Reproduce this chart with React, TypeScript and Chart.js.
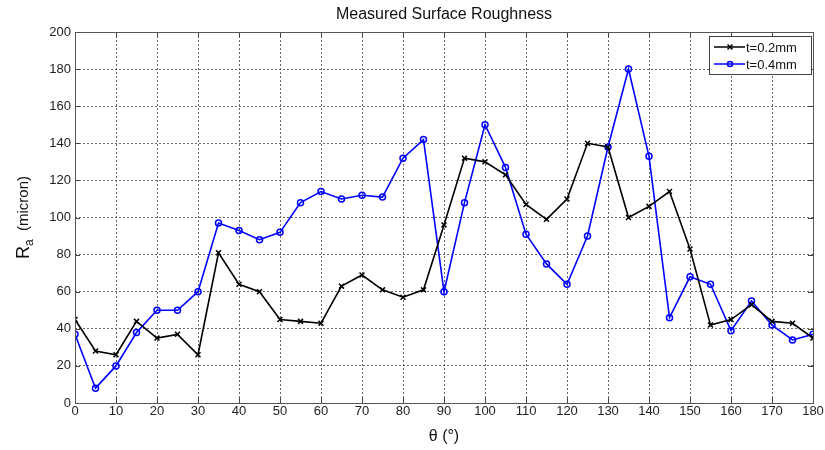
import React, { useEffect, useRef } from "react";
import { Chart, registerables } from "chart.js";
Chart.register(...registerables);

const angles = [0,5,10,15,20,25,30,35,40,45,50,55,60,65,70,75,80,85,90,95,100,105,110,115,120,125,130,135,140,145,150,155,160,165,170,175,180];
const t02 = [45,28,26,44,35,37,26,81,64,60,45,44,43,63,69,61,57,61,96,132,130,123,107,99,110,140,138,100,106,114,83,42,45,53,44,43,35];
const t04 = [37,8,20,38,50,50,60,97,93,88,92,108,114,110,112,111,132,142,60,108,150,127,91,75,64,90,138,180,133,46,68,64,39,55,42,34,37];
const seriesLabels = ["t=0.2mm", "t=0.4mm"];
const titleText = "Measured Surface Roughness";
const xTitle = "θ (°)";
const yTitleMain = "R";
const yTitleSub = "a";
const yTitleRest = "  (micron)";

const FONT = "'Liberation Sans', Arial, sans-serif";

const decorPlugin = {
  id: "decor",
  afterDraw(chart: any) {
    const { ctx, chartArea: a } = chart;
    ctx.save();
    // inner tick marks
    ctx.strokeStyle = "#444";
    ctx.lineWidth = 1;
    ctx.setLineDash([]);
    const xs = chart.scales.x, ys = chart.scales.y;
    xs.ticks.forEach((t: any) => {
      const px = Math.round(xs.getPixelForValue(t.value)) + 0.5;
      ctx.beginPath();
      ctx.moveTo(px, a.bottom); ctx.lineTo(px, a.bottom - 5);
      ctx.moveTo(px, a.top); ctx.lineTo(px, a.top + 5);
      ctx.stroke();
    });
    ys.ticks.forEach((t: any) => {
      const py = Math.round(ys.getPixelForValue(t.value)) + 0.5;
      ctx.beginPath();
      ctx.moveTo(a.left, py); ctx.lineTo(a.left + 5, py);
      ctx.moveTo(a.right, py); ctx.lineTo(a.right - 5, py);
      ctx.stroke();
    });
    // frame
    ctx.strokeStyle = "#555";
    ctx.strokeRect(a.left + 0.5, a.top + 0.5, a.right - a.left, a.bottom - a.top);
    // title
    ctx.fillStyle = "#111";
    ctx.font = `16px ${FONT}`;
    ctx.textAlign = "center";
    ctx.textBaseline = "middle";
    ctx.fillText(titleText, (a.left + a.right) / 2, 15);
    // x title
    ctx.font = `16px ${FONT}`;
    ctx.fillText(xTitle, (a.left + a.right) / 2, 437);
    // y title
    ctx.translate(24, (a.top + a.bottom) / 2);
    ctx.rotate(-Math.PI / 2);
    ctx.textAlign = "left";
    ctx.font = `18px ${FONT}`;
    const wR = ctx.measureText(yTitleMain).width;
    ctx.font = `12px ${FONT}`;
    const wa = ctx.measureText(yTitleSub).width;
    ctx.font = `15px ${FONT}`;
    const wRest = ctx.measureText(yTitleRest).width;
    const total = wR + wa + wRest;
    let x = -total / 2;
    ctx.font = `18px ${FONT}`;
    ctx.fillText(yTitleMain, x, 0);
    x += wR;
    ctx.font = `12px ${FONT}`;
    ctx.fillText(yTitleSub, x, 6);
    x += wa;
    ctx.font = `15px ${FONT}`;
    ctx.fillText(yTitleRest, x, 0);
    ctx.restore();

    // legend
    ctx.save();
    const lx = 709, ly = 36, lw = 102, lh = 38;
    ctx.fillStyle = "#fff";
    ctx.fillRect(lx, ly, lw, lh);
    ctx.strokeStyle = "#444";
    ctx.lineWidth = 1;
    ctx.strokeRect(lx + 0.5, ly + 0.5, lw, lh);
    chart.data.datasets.forEach((ds: any, i: number) => {
      const yy = ly + 11 + i * 17;
      ctx.strokeStyle = ds.borderColor;
      ctx.lineWidth = 1.5;
      ctx.beginPath();
      ctx.moveTo(lx + 5, yy);
      ctx.lineTo(lx + 36, yy);
      ctx.stroke();
      const cx = lx + 21;
      if (ds.pointStyle === "crossRot") {
        ctx.beginPath();
        ctx.moveTo(cx - 2.5, yy - 2.5); ctx.lineTo(cx + 2.5, yy + 2.5);
        ctx.moveTo(cx - 2.5, yy + 2.5); ctx.lineTo(cx + 2.5, yy - 2.5);
        ctx.stroke();
      } else {
        ctx.beginPath();
        ctx.arc(cx, yy, 2.5, 0, Math.PI * 2);
        ctx.stroke();
      }
      ctx.fillStyle = "#111";
      ctx.font = `13px ${FONT}`;
      ctx.textAlign = "left";
      ctx.textBaseline = "middle";
      ctx.fillText(ds.label, lx + 37, yy + 1);
    });
    ctx.restore();
  },
};

export default function App() {
  const ref = useRef<HTMLCanvasElement>(null);
  useEffect(() => {
    document.body.style.margin = "0";
    const ctx = ref.current!.getContext("2d")!;
    const mk = (vals: number[]) => angles.map((x, i) => ({ x, y: vals[i] }));
    const chart = new Chart(ctx, {
      type: "line",
      data: {
        datasets: [
          {
            label: seriesLabels[0],
            data: mk(t02),
            borderColor: "#000000",
            backgroundColor: "#000000",
            borderWidth: 1.6,
            pointStyle: "crossRot",
            pointRadius: 3.5,
            pointBorderWidth: 1.5,
            tension: 0,
          },
          {
            label: seriesLabels[1],
            data: mk(t04),
            borderColor: "#0000ff",
            backgroundColor: "rgba(0,0,0,0)",
            borderWidth: 1.6,
            pointStyle: "circle",
            pointRadius: 3,
            pointBorderWidth: 1.5,
            tension: 0,
          },
        ],
      },
      options: {
        animation: false,
        responsive: false,
        layout: { padding: { top: 32, right: 12, left: 0, bottom: 0 } },
        plugins: { legend: { display: false }, title: { display: false }, tooltip: { enabled: false } },
        scales: {
          x: {
            type: "linear",
            min: 0,
            max: 180,
            afterFit: (s: any) => { s.height = 47; },
            ticks: { stepSize: 10, color: "#222", font: { family: FONT, size: 13 }, padding: 1, maxRotation: 0 },
            grid: { color: "#666", lineWidth: 1, drawTicks: false, tickLength: 0 },
            border: { display: false, dash: [2, 2] },
          },
          y: {
            min: 0,
            max: 200,
            afterFit: (s: any) => { s.width = 75; },
            ticks: { stepSize: 20, color: "#222", font: { family: FONT, size: 13 }, padding: 4 },
            grid: { color: "#666", lineWidth: 1, drawTicks: false, tickLength: 0 },
            border: { display: false, dash: [2, 2] },
          },
        },
      },
      plugins: [decorPlugin],
    });
    return () => chart.destroy();
  }, []);
  return (
    <div style={{ width: 825, height: 450, background: "#fff" }}>
      <canvas ref={ref} width={825} height={450} />
    </div>
  );
}
